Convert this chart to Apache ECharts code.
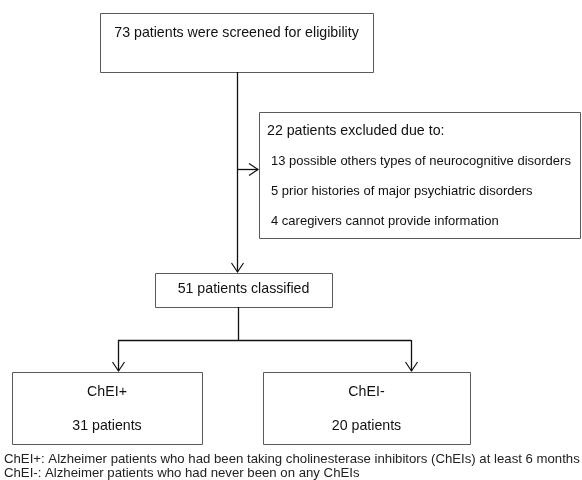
<!DOCTYPE html>
<html><head><meta charset="utf-8">
<script src="https://cdn.jsdelivr.net/npm/echarts@6/dist/echarts.min.js"></script>
<style>html,body{margin:0;padding:0;background:#fff}#c{width:582px;height:480px}</style>
</head><body><div id="c"></div>
<script>
// ---- data ----
const screenedCount = 73;
const excludedCount = 22;
const exclusionCounts = [13, 5, 4];
const exclusionReasons = [
  'possible others types of neurocognitive disorders',
  'prior histories of major psychiatric disorders',
  'caregivers cannot provide information'
];
const classifiedCount = 51;
const groupNames = ['ChEI+', 'ChEI-'];
const groupCounts = [31, 20];
const footnotes = [
  'ChEI+: Alzheimer patients who had been taking cholinesterase inhibitors (ChEIs) at least 6 months',
  'ChEI-: Alzheimer patients who had never been on any ChEIs'
];

// ---- layout (chart coordinates == pixels) ----
const MAIN = 14.2, SMALL = 13;
const boxes = [
  { rect: [100, 13, 373, 72], lines: [[screenedCount + ' patients were screened for eligibility', 'center', 33, MAIN]] },
  { rect: [259, 112, 580, 238], lines: [
      [excludedCount + ' patients excluded due to:', 267, 131, MAIN],
      [exclusionCounts[0] + ' ' + exclusionReasons[0], 271, 161, SMALL],
      [exclusionCounts[1] + ' ' + exclusionReasons[1], 271, 191, SMALL],
      [exclusionCounts[2] + ' ' + exclusionReasons[2], 271, 221, SMALL]
  ]},
  { rect: [155, 273, 332, 307], lines: [[classifiedCount + ' patients classified', 'center', 289, MAIN]] },
  { rect: [12, 372, 202, 444], lines: [[groupNames[0], 'center', 392, MAIN], [groupCounts[0] + ' patients', 'center', 426, MAIN]] },
  { rect: [263, 372, 470, 444], lines: [[groupNames[1], 'center', 392, MAIN], [groupCounts[1] + ' patients', 'center', 426, MAIN]] }
];
const connectors = [
  [237, 72, 237, 272, 1],
  [237, 169, 258, 169, 1],
  [238, 307, 238, 340, 0],
  [118, 340, 411, 340, 0],
  [118, 340, 118, 371, 1],
  [411, 340, 411, 371, 1]
];
const noteRows = [[4, 459], [4, 473]];

const chart = echarts.init(document.getElementById('c'), null, { renderer: 'canvas' });
chart.setOption({
  animation: false,
  grid: { left: 0, right: 0, top: 0, bottom: 0 },
  xAxis: { type: 'value', min: 0, max: 582, show: false },
  yAxis: { type: 'value', min: 0, max: 480, inverse: true, show: false },
  series: [
    {
      type: 'custom',
      coordinateSystem: 'cartesian2d',
      data: boxes.map(b => b.rect),
      renderItem: function (params, api) {
        const b = boxes[params.dataIndex];
        const p1 = api.coord([api.value(0), api.value(1)]);
        const p2 = api.coord([api.value(2), api.value(3)]);
        const x = Math.round(p1[0]) + 0.5, y = Math.round(p1[1]) + 0.5;
        const w = Math.round(p2[0] - p1[0]), h = Math.round(p2[1] - p1[1]);
        const children = [{
          type: 'rect', shape: { x: x, y: y, width: w, height: h },
          style: { fill: '#fff', stroke: '#5a5a5a', lineWidth: 1 }
        }];
        b.lines.forEach(l => {
          const center = l[1] === 'center';
          const tx = center ? (p1[0] + p2[0]) / 2 : api.coord([l[1], 0])[0];
          children.push({
            type: 'text',
            style: {
              text: l[0], x: tx, y: api.coord([0, l[2]])[1],
              align: center ? 'center' : 'left', verticalAlign: 'middle',
              font: l[3] + 'px "Liberation Sans", Arial, sans-serif', fill: '#111'
            }
          });
        });
        return { type: 'group', children: children };
      }
    },
    {
      type: 'custom',
      coordinateSystem: 'cartesian2d',
      data: connectors,
      renderItem: function (params, api) {
        const a = api.coord([api.value(0), api.value(1)]);
        const b = api.coord([api.value(2), api.value(3)]);
        const vertical = Math.abs(a[0] - b[0]) < 0.5;
        const off = 0.5;
        const x1 = vertical ? Math.round(a[0]) + off : a[0];
        const y1 = vertical ? a[1] : Math.round(a[1]) + off;
        const x2 = vertical ? Math.round(b[0]) + off : b[0];
        const y2 = vertical ? b[1] : Math.round(b[1]) + off;
        const children = [{
          type: 'line', shape: { x1: x1, y1: y1, x2: x2, y2: y2 },
          style: { stroke: '#111', lineWidth: 1.3 }
        }];
        if (api.value(4)) {
          const s = 6, l = 9;
          let pts;
          if (vertical) pts = [[x2 - s, y2 - l], [x2, y2], [x2 + s, y2 - l]];
          else pts = [[x2 - l, y2 - s], [x2, y2], [x2 - l, y2 + s]];
          children.push({
            type: 'polyline', shape: { points: pts },
            style: { stroke: '#111', lineWidth: 1.2, fill: null }
          });
        }
        return { type: 'group', children: children };
      }
    },
    {
      type: 'custom',
      coordinateSystem: 'cartesian2d',
      data: noteRows,
      renderItem: function (params, api) {
        const p = api.coord([api.value(0), api.value(1)]);
        return {
          type: 'text',
          style: {
            text: footnotes[params.dataIndex], x: p[0], y: p[1],
            align: 'left', verticalAlign: 'middle',
            font: '13.2px "Liberation Sans", Arial, sans-serif', fill: '#222'
          }
        };
      }
    }
  ]
});
</script>
</body></html>
